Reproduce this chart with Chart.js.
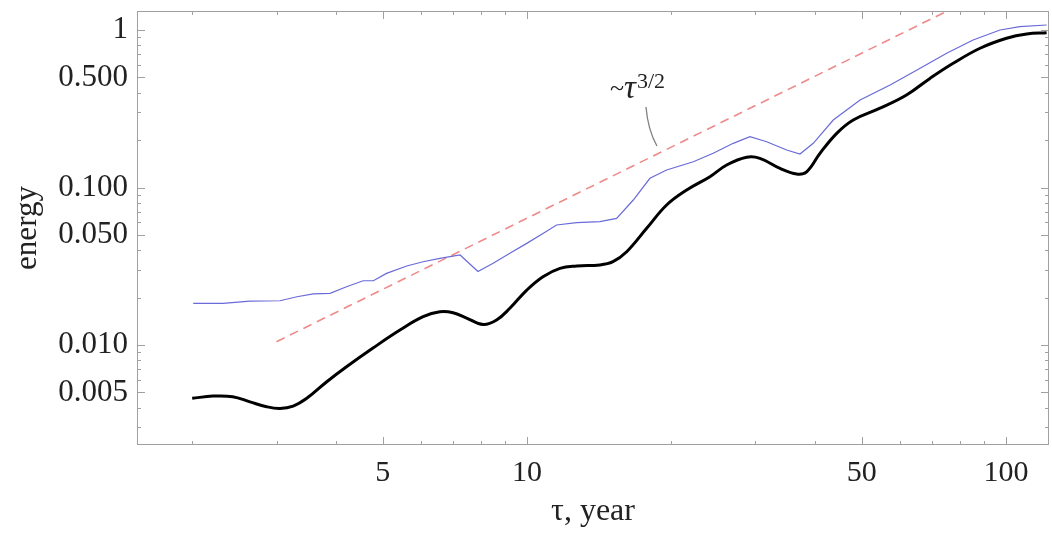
<!DOCTYPE html>
<html>
<head>
<meta charset="utf-8">
<script src="https://cdn.jsdelivr.net/npm/chart.js@4.4.0/dist/chart.umd.min.js"></script>
<style>
  html, body { margin: 0; padding: 0; background: #fff; }
</style>
</head>
<body>
<canvas id="energyChart" width="1052" height="543"></canvas>
<script>
// black curve (thick)
const tauBlack = [2.00, 2.21, 2.43, 2.64, 2.86, 3.05, 3.25, 3.47, 3.82, 4.20, 4.77, 5.43, 6.07, 6.58, 7.01, 7.48,
  8.10, 8.64, 9.21, 9.99, 10.8, 11.72, 12.70, 14.20, 15.12, 16.15, 17.78, 19.57, 21.55, 24.10, 26.12, 28.75,
  30.64, 33.75, 36.56, 38.36, 40.90, 44.33, 48.0, 54.6, 62.0, 69.4, 77.6, 88.3, 100.3, 110.5, 121.6];
const energyBlack = [0.00459, 0.00474, 0.00470, 0.00436, 0.00406, 0.00396, 0.00410, 0.00459, 0.00585, 0.00728,
  0.00957, 0.01245, 0.01513, 0.01626, 0.01603, 0.01484, 0.01350, 0.01442, 0.01711, 0.02233, 0.02716, 0.03069,
  0.03177, 0.03221, 0.03381, 0.03910, 0.05508, 0.07743, 0.0964, 0.1172, 0.1389, 0.1556, 0.1532, 0.1324, 0.1219,
  0.1259, 0.1648, 0.2208, 0.2684, 0.3187, 0.3865, 0.4929, 0.6144, 0.7656, 0.886, 0.943, 0.961];

// blue curve (thin)
const tauBlue = [2.01, 2.32, 2.64, 3.05, 3.31, 3.58, 3.88, 4.20, 4.55, 4.78, 5.09, 5.61, 6.07, 6.58, 7.25, 7.90,
  8.50, 9.21, 9.99, 10.82, 11.53, 12.70, 14.20, 15.39, 16.67, 18.06, 19.57, 22.25, 24.48, 26.96, 29.21, 31.66,
  34.85, 37.15, 39.6, 43.6, 49.6, 57.3, 66.2, 75.2, 85.4, 97.2, 106.9, 121.6];
const energyBlue = [0.0184, 0.0184, 0.01903, 0.01911, 0.02026, 0.0211, 0.02129, 0.02345, 0.0256, 0.0256, 0.0285,
  0.03174, 0.0338, 0.03552, 0.0373, 0.02928, 0.03302, 0.0382, 0.0442, 0.0512, 0.0578, 0.0598, 0.0607, 0.0637,
  0.0833, 0.1144, 0.1291, 0.1458, 0.1649, 0.1908, 0.2101, 0.1953, 0.1730, 0.1632, 0.1908, 0.2683, 0.3593, 0.4474,
  0.5711, 0.7112, 0.8640, 1.0, 1.05, 1.076];

// dashed guide ~ tau^(3/2)
const tauGuide = [3.0, 90];
const energyGuide = [0.0105, 1.72];

// ticks
const xTicks = [5, 10, 50, 100];
const xMinor = [2, 3, 4, 6, 7, 8, 9, 20, 30, 40, 60, 70, 80, 90];
const yTicks = [0.005, 0.01, 0.05, 0.1, 0.5, 1];
const yMinor = [0.003, 0.004, 0.006, 0.007, 0.008, 0.009, 0.02, 0.03, 0.04, 0.06, 0.07, 0.08, 0.09,
  0.2, 0.3, 0.4, 0.6, 0.7, 0.8, 0.9];

// label "~tau^(3/2)" and its pointer, in data units
const noteAt = [14.91, 0.370];
const notePointer = [[17.72, 0.3245], [17.89, 0.2317], [18.68, 0.1834]];

const serif = "'Liberation Serif', 'Times New Roman', serif";
const toPoints = (xs, ys) => xs.map((v, i) => ({ x: v, y: ys[i] }));

const framePlugin = {
  id: "frame",
  beforeDatasetsDraw(chart) {
    const { ctx, chartArea: a, scales: { x, y } } = chart;
    ctx.save();
    ctx.strokeStyle = "#a0a0a0";
    ctx.lineWidth = 1;
    ctx.strokeRect(a.left + 0.5, a.top + 0.5, a.right - a.left - 1, a.bottom - a.top - 1);
    ctx.beginPath();
    const xMark = (v, len) => {
      const px = Math.round(x.getPixelForValue(v)) + 0.5;
      ctx.moveTo(px, a.bottom); ctx.lineTo(px, a.bottom - len);
      ctx.moveTo(px, a.top); ctx.lineTo(px, a.top + len);
    };
    const yMark = (v, len) => {
      const py = Math.round(y.getPixelForValue(v)) + 0.5;
      ctx.moveTo(a.left, py); ctx.lineTo(a.left + len, py);
      ctx.moveTo(a.right, py); ctx.lineTo(a.right - len, py);
    };
    xTicks.forEach(v => xMark(v, 8));
    xMinor.forEach(v => xMark(v, 4));
    yTicks.forEach(v => yMark(v, 8));
    yMinor.forEach(v => yMark(v, 4));
    ctx.stroke();
    ctx.restore();
  },
  afterDatasetsDraw(chart) {
    const { ctx, scales: { x, y } } = chart;
    ctx.save();
    // pointer
    const p = notePointer.map(d => [x.getPixelForValue(d[0]), y.getPixelForValue(d[1])]);
    ctx.strokeStyle = "#808080";
    ctx.lineWidth = 1.3;
    ctx.beginPath();
    ctx.moveTo(p[0][0], p[0][1]);
    ctx.quadraticCurveTo(p[1][0], p[1][1], p[2][0], p[2][1]);
    ctx.stroke();
    // text
    let tx = x.getPixelForValue(noteAt[0]);
    const ty = y.getPixelForValue(noteAt[1]);
    ctx.fillStyle = "#222";
    ctx.textBaseline = "alphabetic";
    ctx.font = "26px " + serif;
    ctx.fillText("~", tx, ty - 2);
    tx += ctx.measureText("~").width;
    ctx.font = "italic 33px " + serif;
    ctx.fillText("τ", tx, ty);
    tx += ctx.measureText("τ").width + 1;
    ctx.font = "22px " + serif;
    ctx.fillText("3/2", tx, ty - 10);
    ctx.restore();
  }
};

const ctx = document.getElementById("energyChart").getContext("2d");
new Chart(ctx, {
  type: "line",
  data: {
    datasets: [
      {
        label: "black",
        data: toPoints(tauBlack, energyBlack),
        borderColor: "#000",
        borderWidth: 3,
        pointRadius: 0,
        tension: 0.4,
        fill: false
      },
      {
        label: "blue",
        data: toPoints(tauBlue, energyBlue),
        borderColor: "#6a6ad8",
        borderWidth: 1.2,
        pointRadius: 0,
        tension: 0,
        fill: false
      },
      {
        label: "guide",
        data: toPoints(tauGuide, energyGuide),
        borderColor: "#ee8a8a",
        borderWidth: 1.6,
        borderDash: [9, 6],
        pointRadius: 0,
        fill: false
      }
    ]
  },
  options: {
    responsive: false,
    animation: false,
    layout: { padding: { top: 11, right: 3, left: 0, bottom: 0 } },
    plugins: { legend: { display: false }, tooltip: { enabled: false } },
    scales: {
      x: {
        type: "logarithmic",
        min: 1.534,
        max: 123,
        bounds: "data",
        afterBuildTicks: s => { s.ticks = xTicks.map(v => ({ value: v })); },
        afterFit: s => { s.height = 98; s.paddingLeft = 0; s.paddingRight = 0; },
        grid: { display: false, drawTicks: false },
        border: { display: false },
        ticks: {
          autoSkip: false,
          maxRotation: 0,
          padding: 10,
          color: "#222",
          font: { family: serif, size: 30 },
          callback: v => String(v)
        },
        title: {
          display: true,
          text: "τ, year",
          color: "#222",
          font: { family: serif, size: 32 },
          padding: { top: 0, bottom: 12 }
        }
      },
      y: {
        type: "logarithmic",
        min: 0.00232,
        max: 1.32,
        bounds: "data",
        afterBuildTicks: s => { s.ticks = yTicks.map(v => ({ value: v })); },
        afterFit: s => { s.width = 137; s.paddingTop = 0; s.paddingBottom = 0; },
        grid: { display: false, drawTicks: false },
        border: { display: false },
        ticks: {
          autoSkip: false,
          padding: 9,
          color: "#222",
          font: { family: serif, size: 31 },
          callback: v => (v === 1 ? "1" : v.toFixed(3))
        },
        title: {
          display: true,
          text: "energy",
          color: "#222",
          font: { family: serif, size: 31 },
          padding: { top: 9, bottom: 0 }
        }
      }
    }
  },
  plugins: [framePlugin]
});
</script>
</body>
</html>
